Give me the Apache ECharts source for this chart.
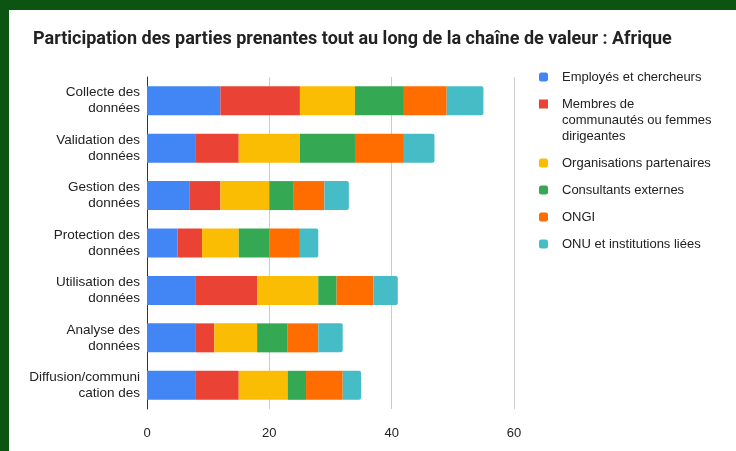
<!DOCTYPE html>
<html>
<head>
<meta charset="utf-8">
<script src="https://cdn.jsdelivr.net/npm/echarts@6/dist/echarts.min.js"></script>
<style>
  html, body { margin: 0; padding: 0; background: #0b5412; }
  #main {
    width: 727px; height: 441px;
    border-left: 9px solid #0b5412; border-top: 10px solid #0b5412;
    background: #fff;
  }
</style>
</head>
<body>
<div id="main"></div>
<script>
var categories = [
  'Collecte des\ndonnées',
  'Validation des\ndonnées',
  'Gestion des\ndonnées',
  'Protection des\ndonnées',
  'Utilisation des\ndonnées',
  'Analyse des\ndonnées',
  'Diffusion/communi\ncation des'
]
var seriesNames = [
  'Employés et chercheurs',
  'Membres de communautés ou femmes dirigeantes',
  'Organisations partenaires',
  'Consultants externes',
  'ONGI',
  'ONU et institutions liées'
]
var employes = [12, 8, 7, 5, 8, 8, 8]
var membres = [13, 7, 5, 4, 10, 3, 7]
var organisations = [9, 10, 8, 6, 10, 7, 8]
var consultants = [8, 9, 4, 5, 3, 5, 3]
var ongi = [7, 8, 5, 5, 6, 5, 6]
var onu = [6, 5, 4, 3, 4, 4, 3]
var xTicks = [0, 20, 40, 60]

var colors = ['#4285F4', '#EA4335', '#FBBC04', '#34A853', '#FF6D01', '#46BDC6']
var values = [employes, membres, organisations, consultants, ongi, onu]
var font = 'Liberation Sans, Arial, sans-serif'

// eslint-disable-next-line no-undef
var myChart = echarts.init(document.getElementById('main'))

var legendBase = {
  orient: 'vertical',
  left: 530,
  padding: 0,
  itemWidth: 9,
  itemHeight: 9,
  itemGap: 11,
  icon: 'roundRect',
  selectedMode: false,
  textStyle: {
    color: '#222',
    fontSize: 13,
    fontFamily: font,
    lineHeight: 16,
    padding: [0, 0, 0, 9]
  }
}

var option = {
  animation: false,
  backgroundColor: '#fff',
  color: colors,
  title: {
    text: 'Participation des parties prenantes tout au long de la chaîne de valeur : Afrique',
    left: 19,
    top: 15,
    textStyle: {
      color: '#222',
      fontSize: 18,
      fontWeight: 'bold',
      fontFamily: 'Roboto, sans-serif'
    }
  },
  legend: [
    Object.assign({}, legendBase, { top: 59, data: [seriesNames[0]] }),
    // wrapped entry: icon sits on the first line, so the icon box is 3 lines tall
    Object.assign({}, legendBase, {
      top: 86,
      itemHeight: 41,
      icon: 'path://M0,0h9v9h-9zM0,41',
      data: [seriesNames[1]],
      formatter: function () {
        return 'Membres de\ncommunautés ou femmes\ndirigeantes'
      }
    }),
    Object.assign({}, legendBase, { top: 145, data: seriesNames.slice(2) })
  ],
  grid: {
    left: 138,
    right: 222,
    top: 67,
    bottom: 42
  },
  xAxis: {
    type: 'value',
    min: xTicks[0],
    max: xTicks[xTicks.length - 1],
    interval: xTicks[1] - xTicks[0],
    axisLine: { show: false },
    axisTick: { show: false },
    splitLine: { lineStyle: { color: '#cccccc' } },
    axisLabel: {
      color: '#222',
      fontSize: 13,
      fontFamily: font,
      margin: 18
    }
  },
  yAxis: {
    type: 'category',
    inverse: true,
    data: categories,
    axisLine: { show: true, lineStyle: { color: '#333', width: 1 } },
    axisTick: { show: false },
    axisLabel: {
      color: '#222',
      fontSize: 13.5,
      fontFamily: font,
      lineHeight: 16,
      margin: 7
    }
  },
  series: seriesNames.map(function (name, i) {
    return {
      name: name,
      type: 'bar',
      stack: 'total',
      barWidth: 29,
      data: values[i],
      itemStyle: {
        color: colors[i],
        borderRadius: i === seriesNames.length - 1 ? [0, 2, 2, 0] : 0
      }
    }
  })
}
myChart.setOption(option)
</script>
</body>
</html>
